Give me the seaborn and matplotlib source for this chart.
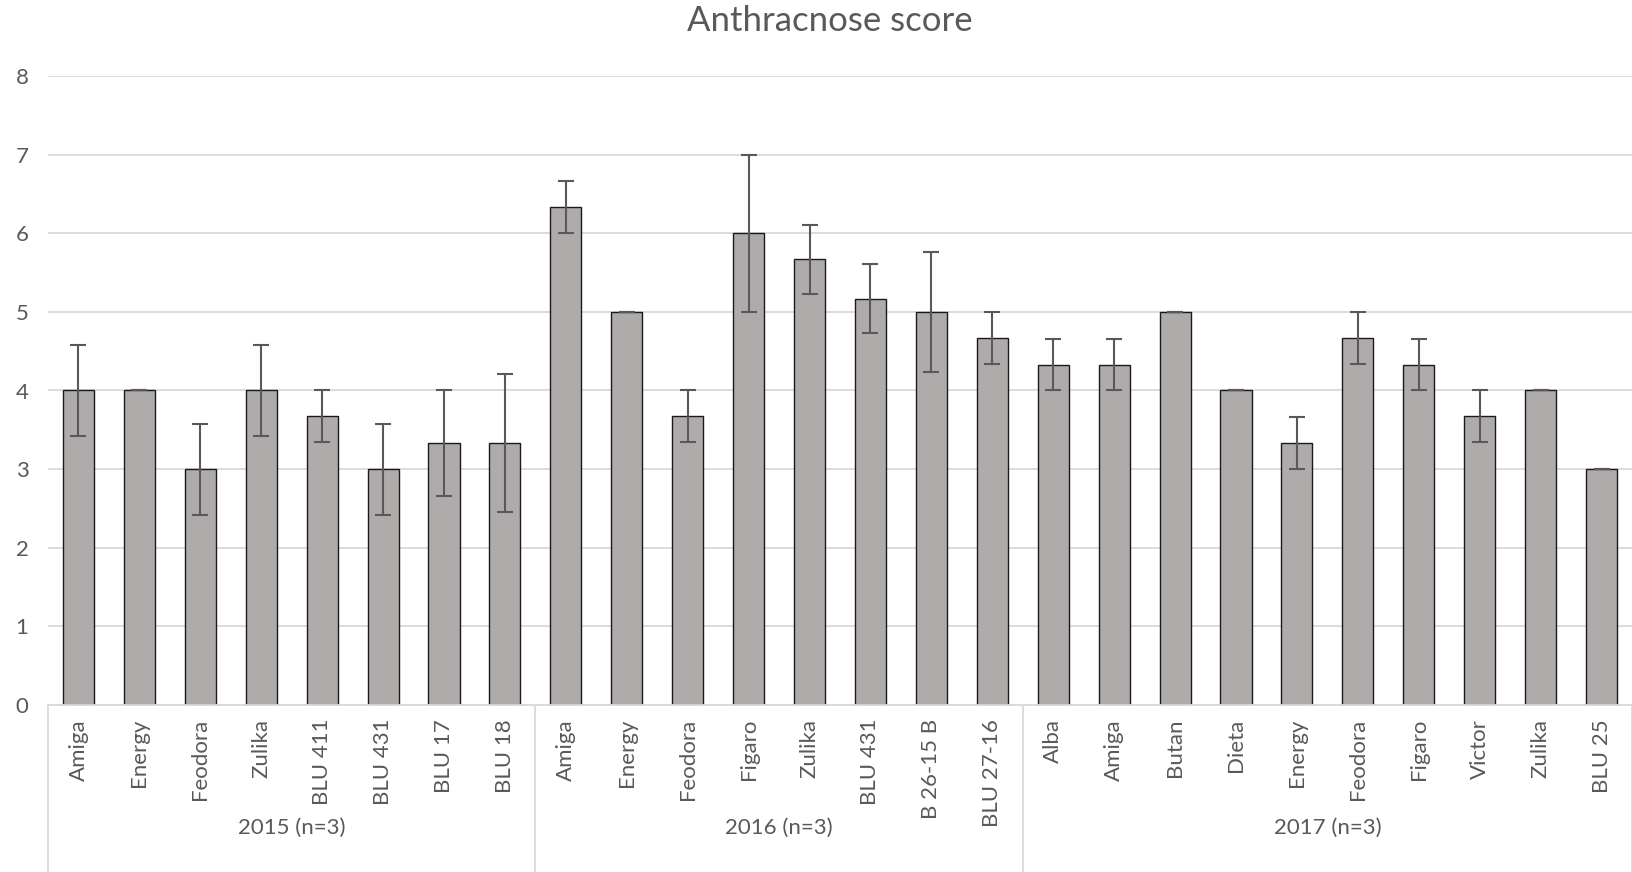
import matplotlib
matplotlib.use("Agg")
import matplotlib.pyplot as plt
import matplotlib.transforms as mtransforms
import seaborn as sns
import pandas as pd
import numpy as np

# ---- data ----
groups = ["2015 (n=3)", "2016 (n=3)", "2017 (n=3)"]
cultivars_2015 = ["Amiga", "Energy", "Feodora", "Zulika", "BLU 411", "BLU 431", "BLU 17", "BLU 18"]
scores_2015 = [4.0, 4.0, 3.0, 4.0, 3.67, 3.0, 3.33, 3.33]
errors_2015 = [0.58, 0.0, 0.58, 0.58, 0.33, 0.58, 0.67, 0.88]

cultivars_2016 = ["Amiga", "Energy", "Feodora", "Figaro", "Zulika", "BLU 431", "B 26-15 B", "BLU 27-16"]
scores_2016 = [6.33, 5.0, 3.67, 6.0, 5.67, 5.17, 5.0, 4.67]
errors_2016 = [0.33, 0.0, 0.33, 1.0, 0.44, 0.44, 0.76, 0.33]

cultivars_2017 = ["Alba", "Amiga", "Butan", "Dieta", "Energy", "Feodora", "Figaro", "Victor", "Zulika", "BLU 25"]
scores_2017 = [4.33, 4.33, 5.0, 4.0, 3.33, 4.67, 4.33, 3.67, 4.0, 3.0]
errors_2017 = [0.33, 0.33, 0.0, 0.0, 0.33, 0.33, 0.33, 0.33, 0.0, 0.0]

y_ticks = [0, 1, 2, 3, 4, 5, 6, 7, 8]
title = "Anthracnose score"

# ---- build frame ----
cults = [cultivars_2015, cultivars_2016, cultivars_2017]
scs = [scores_2015, scores_2016, scores_2017]
errs = [errors_2015, errors_2016, errors_2017]
rows = []
for g, c, s, e in zip(groups, cults, scs, errs):
    for ci, si, ei in zip(c, s, e):
        rows.append({"group": g, "cultivar": ci, "key": f"{g}|{ci}", "score": si, "err": ei})
df = pd.DataFrame(rows)

sns.set_theme(style="white")
plt.rcParams["font.family"] = ["Lato", "DejaVu Sans"]
text_color = "#595959"

fig = plt.figure(figsize=(16.32, 8.72), dpi=100)
ax = fig.add_axes([48 / 1632, (872 - 705) / 872, 1 - 48 / 1632, (705 - 76) / 872])

sns.barplot(data=df, x="key", y="score", color="#AEABAA", saturation=1,
            edgecolor="#1a1a1a", linewidth=1.0, width=0.51, errorbar=None, ax=ax)

# error bars at bar centres
centers = [p.get_x() + p.get_width() / 2 for p in ax.patches]
heights = [p.get_height() for p in ax.patches]
ax.errorbar(centers, heights, yerr=df["err"].values, fmt="none",
            ecolor="#595959", elinewidth=1.5, capsize=6, capthick=1.5, zorder=5)

ax.set_ylim(0, 8)
ax.set_xlim(-0.5, len(df) - 0.5)
ax.set_yticks(y_ticks)
ax.set_yticklabels([str(t) for t in y_ticks], fontsize=16, color=text_color)
ax.yaxis.grid(True, color="#D9D9D9", linewidth=1.3)
ax.set_axisbelow(True)
for s in ["top", "right", "left"]:
    ax.spines[s].set_visible(False)
ax.spines["bottom"].set_color("#D9D9D9")
ax.spines["bottom"].set_linewidth(1.3)
ax.tick_params(axis="y", length=0, pad=14)
ax.tick_params(axis="x", length=0, pad=10)

ax.set_xticks(range(len(df)))
ax.set_xticklabels(df["cultivar"], rotation=90, fontsize=16, color=text_color,
                   va="top", ha="center")
ax.set_xlabel("")
ax.set_ylabel("")

# group labels and separators
trans = mtransforms.blended_transform_factory(ax.transData, ax.transAxes)
ax_h_px = 705 - 76
sep_bottom = -(872 - 705) / ax_h_px
label_y = -(828 - 705) / ax_h_px
start = 0
bounds = [-0.5]
for g, c in zip(groups, cults):
    n = len(c)
    mid = start + (n - 1) / 2
    ax.text(mid, label_y, g, transform=trans, ha="center", va="center",
            fontsize=16, color=text_color)
    start += n
    bounds.append(start - 0.5)
for b in bounds:
    ax.plot([b, b], [0, sep_bottom], transform=trans, color="#D9D9D9",
            linewidth=1.3, clip_on=False)

fig.text(830 / 1632, 1 - 21 / 872, title, ha="center", va="center", fontsize=25,
         color=text_color)

fig.savefig("out.png", dpi=100, facecolor="white")
